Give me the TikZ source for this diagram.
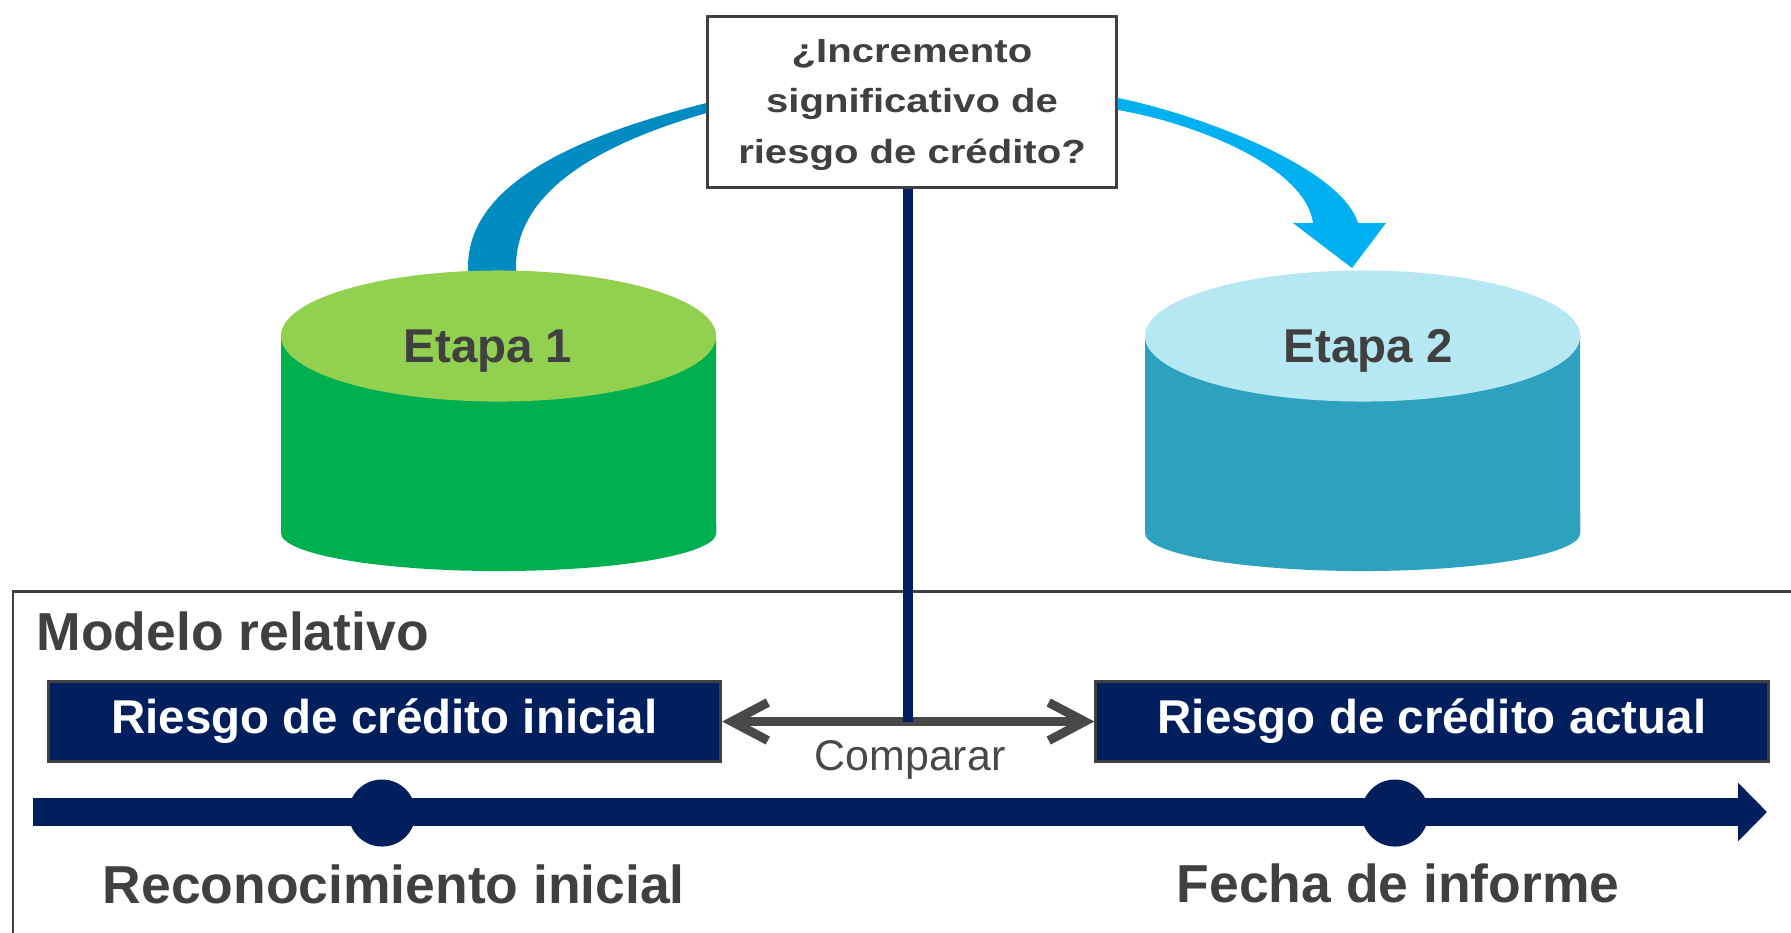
\documentclass[tikz,border=0pt]{standalone}
\usepackage{fontspec}
\setmainfont{Liberation Sans}
\newfontfamily\qfont{Liberation Sans}[FakeStretch=1.2]
\usetikzlibrary{arrows.meta,calc}
\definecolor{navy}{HTML}{001F5C}
\definecolor{frgray}{HTML}{404040}
\definecolor{txtgray}{HTML}{404040}
\definecolor{cmpgray}{HTML}{484848}
\definecolor{c1top}{HTML}{92D050}
\definecolor{c1side}{HTML}{00B050}
\definecolor{c2top}{HTML}{B5E8F3}
\definecolor{c2side}{HTML}{2DA1BE}
\definecolor{arrL}{HTML}{008CC3}
\definecolor{arrR}{HTML}{00B0F0}

\begin{document}
\begin{tikzpicture}[
x=0.01cm,y=-0.01cm,
qbox/.style={
  draw=frgray,
  line width=0.85pt,
  fill=white,
  minimum width=4.08cm,
  minimum height=1.71cm,
  align=center,
  text=txtgray,
  font=\qfont\bfseries\fontsize{9.5}{14.4}\selectfont
  },
stage/.style={
  font=\fontsize{13.5}{16}\selectfont\bfseries,
  text=txtgray,
  inner sep=0pt,
  anchor=base
  },
rbox/.style={
  draw=frgray,
  line width=0.85pt,
  fill=navy,
  text=white,
  font=\fontsize{13.5}{16}\selectfont\bfseries,
  minimum width=6.72cm,
  minimum height=0.8cm,
  inner sep=0pt
  },
big/.style={
  font=\fontsize{15.2}{18}\selectfont\bfseries,
  text=txtgray,
  inner sep=0pt
  },
tick/.style={
  circle,
  fill=navy,
  minimum size=0.67cm,
  inner sep=0pt
  },
barb/.tip={Straight Barb[length=0.36cm,width=0.38cm]},
>=latex
]
\useasboundingbox (0,0) rectangle (1791,932);

\node[qbox] (q) at (912,102) {};
\node[font=\qfont\bfseries\fontsize{9.5}{14.4}\selectfont,text=txtgray,align=center,inner sep=0pt] (qtxt) at (912,105) {¿Incremento\\significativo de\\riesgo de crédito?};

\fill[arrL] (468,290) -- (468,267) .. controls (468,190) and (560,140) .. ($(q.west)+(0,1)$)
  -- ($(q.west)+(0,11)$) .. controls (590,147) and (516,195) .. (516,267) -- (516,290) -- cycle;
\fill[arrR] ($(q.east)+(0,-4)$) .. controls (1190,112) and (1340,165) .. (1358,223)
  -- (1386,223) -- (1352,268) -- (1293,223) -- (1313,223)
  .. controls (1305,165) and (1190,122) .. ($(q.east)+(0,8)$) -- cycle;

\foreach \cx/\tx/\ctop/\cside/\lab/\n in {498.5/488/c1top/c1side/Etapa 1/1,1362.5/1368/c2top/c2side/Etapa 2/2}
{
  \fill[\cside] (\cx-217.5,336) -- (\cx-217.5,533)
    arc[start angle=180,end angle=360,x radius=2.175cm,y radius=0.38cm] -- (\cx+217.5,336) -- cycle;
  \fill[\ctop] (\cx,336) ellipse[x radius=2.175cm,y radius=0.655cm];
  \node[stage] (et\n) at (\tx,362) {\lab};
}

\draw[frgray,line width=0.85pt] (1800,591) -| (13,945);
\node[big,anchor=base west] (mod) at (36,650) {Modelo relativo};

\node[rbox] (ini) at (384.5,721.5) {Riesgo de crédito inicial};
\node[rbox] (act) at (1432,721.5) {Riesgo de crédito actual};
\coordinate (mid) at ($(ini.east)!0.5!(act.west)$);

\draw[cmpgray,line width=0.09cm,barb-barb] (ini.east) -- (act.west);
\draw[navy,line width=0.1cm] (q.south -| mid) -- (mid);
\node[anchor=base,inner sep=0pt,text=cmpgray,font=\fontsize{12.2}{14}\selectfont] (cmp) at (910,770) {Comparar};

\coordinate (tl0) at (33,812);
\coordinate (tl1) at (1767,812);
\draw[navy,line width=0.28cm,-{Triangle[length=0.29cm,width=0.57cm]}] (tl0) -- (tl1);
\node[tick] (p1) at (382,813) {};
\node[tick] (p2) at (1395,813) {};

\node[big,anchor=base west] (rec) at (102,903) {Reconocimiento inicial};
\node[big,anchor=base] (fec) at (1398,902) {Fecha de informe};

\end{tikzpicture}
\end{document}
